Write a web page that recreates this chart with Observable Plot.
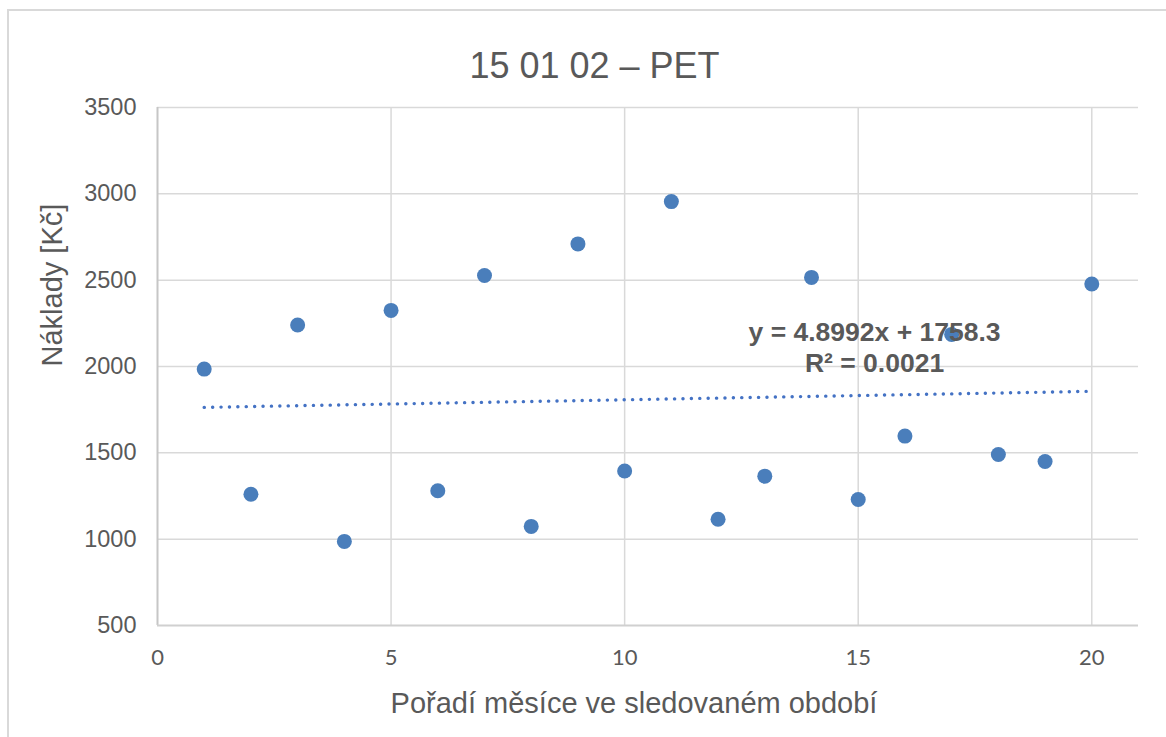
<!DOCTYPE html>
<html>
<head>
<meta charset="utf-8">
<script src="https://cdn.jsdelivr.net/npm/d3@7"></script>
<script src="https://cdn.jsdelivr.net/npm/@observablehq/plot@0.6"></script>
<style>
  html, body { margin: 0; padding: 0; background: #fff; }
  #wrap { position: relative; width: 1166px; height: 737px; overflow: hidden; }
  #border { position: absolute; left: 7px; top: 9px; width: 1200px; height: 800px;
            border: 2px solid #d9d9d9; box-sizing: border-box; }
  #chart { position: absolute; left: 0; top: 0; }
</style>
</head>
<body>
<div id="wrap"><div id="border"></div><div id="chart"></div></div>
<script>
const title = "15 01 02 – PET";
const xLabel = "Pořadí měsíce ve sledovaném období";
const yLabel = "Náklady [Kč]";
const months = [1, 2, 3, 4, 5, 6, 7, 8, 9, 10, 11, 12, 13, 14, 15, 16, 17, 18, 19, 20];
const costs = [1985, 1260, 2240, 987, 2325, 1280, 2527, 1074, 2710, 1395, 2955, 1115, 1365, 2516, 1230, 1597, 2186, 1490, 1450, 2478];
const xTicks = [0, 5, 10, 15, 20];
const yTicks = [500, 1000, 1500, 2000, 2500, 3000, 3500];
const trendSlope = 4.8992;
const trendIntercept = 1758.3;
const trendRange = [1, 20];
const eqLines = ["y = 4.8992x + 1758.3", "R² = 0.0021"];
const eqX = 15.35;
const eqY = [2197, 2018];

const points = months.map((m, i) => ({x: m, y: costs[i]}));
const trend = trendRange.map(x => ({x, y: trendIntercept + trendSlope * x}));
const eq = eqLines.map((t, i) => ({t, x: eqX, y: eqY[i]}));

const textColor = "#595959";
const font = "'Liberation Sans', Arial, sans-serif";

const chart = Plot.plot({
  width: 1166,
  height: 737,
  marginLeft: 157,
  marginRight: 28,
  marginTop: 107,
  marginBottom: 112,
  style: {fontFamily: font, color: textColor, background: "transparent"},
  x: {domain: [0, 21], ticks: xTicks},
  y: {domain: [500, 3500], ticks: yTicks},
  marks: [
    Plot.gridX(xTicks.filter(d => d > 0), {stroke: "#d9d9d9", strokeOpacity: 1, strokeWidth: 1.5}),
    Plot.gridY(yTicks.filter(d => d > 500), {stroke: "#d9d9d9", strokeOpacity: 1, strokeWidth: 1.5}),
    Plot.ruleX([0], {stroke: "#c6c6c6", strokeWidth: 2}),
    Plot.ruleY([500], {stroke: "#d0d0d0", strokeWidth: 2}),
    Plot.axisX(xTicks, {tickSize: 0, tickPadding: 24, fontSize: 22, fontFamily: "Lato, 'Liberation Sans', sans-serif", fill: textColor, label: null, tickFormat: "d"}),
    Plot.axisY(yTicks, {tickSize: 0, tickPadding: 21, fontSize: 23.5, fill: textColor, label: null, tickFormat: "d"}),
    Plot.line(trend, {x: "x", y: "y", stroke: "#4472c4", strokeWidth: 3.4, strokeDasharray: "0.1 8.3", strokeLinecap: "round"}),
    Plot.dot(points, {x: "x", y: "y", r: 7.5, fill: "#4a7ebb", stroke: "none"}),
    Plot.text(eq, {x: "x", y: "y", text: "t", fontSize: 26.5, fontWeight: "bold", fill: textColor, textAnchor: "middle"}),
    Plot.text([title], {frameAnchor: "top", dy: -55, dx: -53.5, fontSize: 36, fill: textColor}),
    Plot.text([xLabel], {frameAnchor: "bottom", dy: 87, dx: -14, fontSize: 29, fill: textColor}),
    Plot.text([yLabel], {frameAnchor: "left", dx: -105, rotate: -90, fontSize: 29, fill: textColor})
  ]
});
document.getElementById("chart").appendChild(chart);
</script>
</body>
</html>
